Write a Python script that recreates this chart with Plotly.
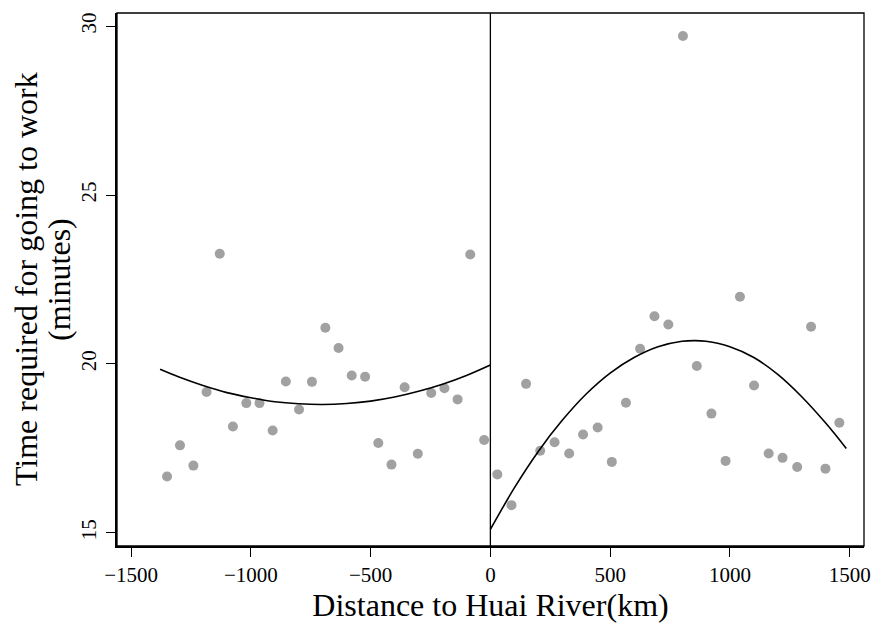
import plotly.graph_objects as go

# Binned scatter: left (south of Huai River, negative distance) and right (north)
left_x = [-1350, -1296, -1240, -1185, -1130, -1075, -1019, -964, -909, -854,
          -799, -745, -689, -634, -579, -523, -468, -413, -358, -303,
          -247, -192, -137, -84, -26]
left_y = [16.67, 17.59, 16.99, 19.17, 23.26, 18.15, 18.84, 18.84, 18.03, 19.48,
          18.65, 19.47, 21.07, 20.47, 19.66, 19.62, 17.66, 17.02, 19.31, 17.34,
          19.14, 19.28, 18.95, 23.24, 17.75]

right_x = [29, 88, 149, 208, 268, 329, 387, 448, 507, 566,
           625, 685, 743, 804, 862, 923, 982, 1042, 1101, 1162,
           1220, 1281, 1339, 1399, 1457]
right_y = [16.73, 15.82, 19.41, 17.43, 17.68, 17.35, 17.91, 18.12, 17.10, 18.85,
           20.45, 21.41, 21.17, 29.71, 19.94, 18.53, 17.13, 21.99, 19.36, 17.35,
           17.22, 16.95, 21.10, 16.90, 18.26]

# Quadratic fit curves
fit_left_x = [-1379, -1300, -1200, -1100, -1000, -900, -800, -700, -600,
              -500, -400, -300, -200, -100, 0]
fit_left_y = [19.84, 19.61, 19.36, 19.15, 19.00, 18.88, 18.82, 18.80, 18.83,
              18.90, 19.02, 19.19, 19.40, 19.66, 19.97]

fit_right_x = [0, 100, 200, 300, 400, 500, 600, 700, 800, 855, 900, 1000,
               1100, 1200, 1300, 1400, 1486]
fit_right_y = [15.10, 16.33, 17.41, 18.33, 19.11, 19.73, 20.19, 20.51, 20.67,
               20.69, 20.67, 20.51, 20.19, 19.69, 19.03, 18.25, 17.50]

x_ticks = [-1500, -1000, -500, 0, 500, 1000, 1500]
x_tick_text = ["\u22121500", "\u22121000", "\u2212500", "0", "500", "1000", "1500"]
y_ticks = [15, 20, 25, 30]
y_title_lines = ["Time required for going to work", "(minutes)"]

FONT = "Liberation Serif, Times New Roman, serif"
DOT = "#a1a1a1"

fig = go.Figure()
for xs, ys in [(left_x, left_y), (right_x, right_y)]:
    fig.add_trace(go.Scatter(x=xs, y=ys, mode="markers",
                             marker=dict(size=10, color=DOT, line=dict(width=0)),
                             showlegend=False, hoverinfo="x+y"))
for xs, ys in [(fit_left_x, fit_left_y), (fit_right_x, fit_right_y)]:
    fig.add_trace(go.Scatter(x=xs, y=ys, mode="lines",
                             line=dict(color="black", width=1.6, shape="spline"),
                             showlegend=False, hoverinfo="skip"))

fig.add_shape(type="line", xref="x", yref="paper", x0=0, x1=0, y0=0, y1=1,
              line=dict(color="black", width=1.3))
fig.add_shape(type="rect", xref="paper", yref="paper", x0=0, x1=1, y0=0, y1=1,
              line=dict(color="black", width=1.3))

# y-axis title as two rotated lines
plot_w = 883 - 117 - 14
for line_text, px in zip(y_title_lines, [25, 58]):
    fig.add_annotation(text=line_text, xref="paper", yref="paper",
                       x=(px - 117) / plot_w, y=0.5, xanchor="center", yanchor="middle",
                       textangle=-90, showarrow=False,
                       font=dict(size=32, family=FONT, color="black"))

fig.update_layout(
    width=883, height=624,
    margin=dict(l=117, r=14, t=13, b=74),
    paper_bgcolor="white", plot_bgcolor="white",
    font=dict(family=FONT, color="black"),
    xaxis=dict(range=[-1559, 1560], tickvals=x_ticks, ticktext=x_tick_text,
               showgrid=False, zeroline=False, showline=True, linecolor="black",
               linewidth=2, ticks="outside", ticklen=9, tickwidth=1.3,
               tickcolor="black", tickfont=dict(size=21, family=FONT),
               title=dict(text="Distance to Huai River(km)",
                          font=dict(size=32, family=FONT), standoff=2)),
    yaxis=dict(range=[14.61, 30.39], tickvals=y_ticks, tickangle=-90,
               showgrid=False, zeroline=False, showline=True, linecolor="black",
               linewidth=2, ticks="outside", ticklen=9, tickwidth=1.3,
               tickcolor="black", tickfont=dict(size=21, family=FONT),
               ticklabelstandoff=2),
)

fig.write_html("out.html")
